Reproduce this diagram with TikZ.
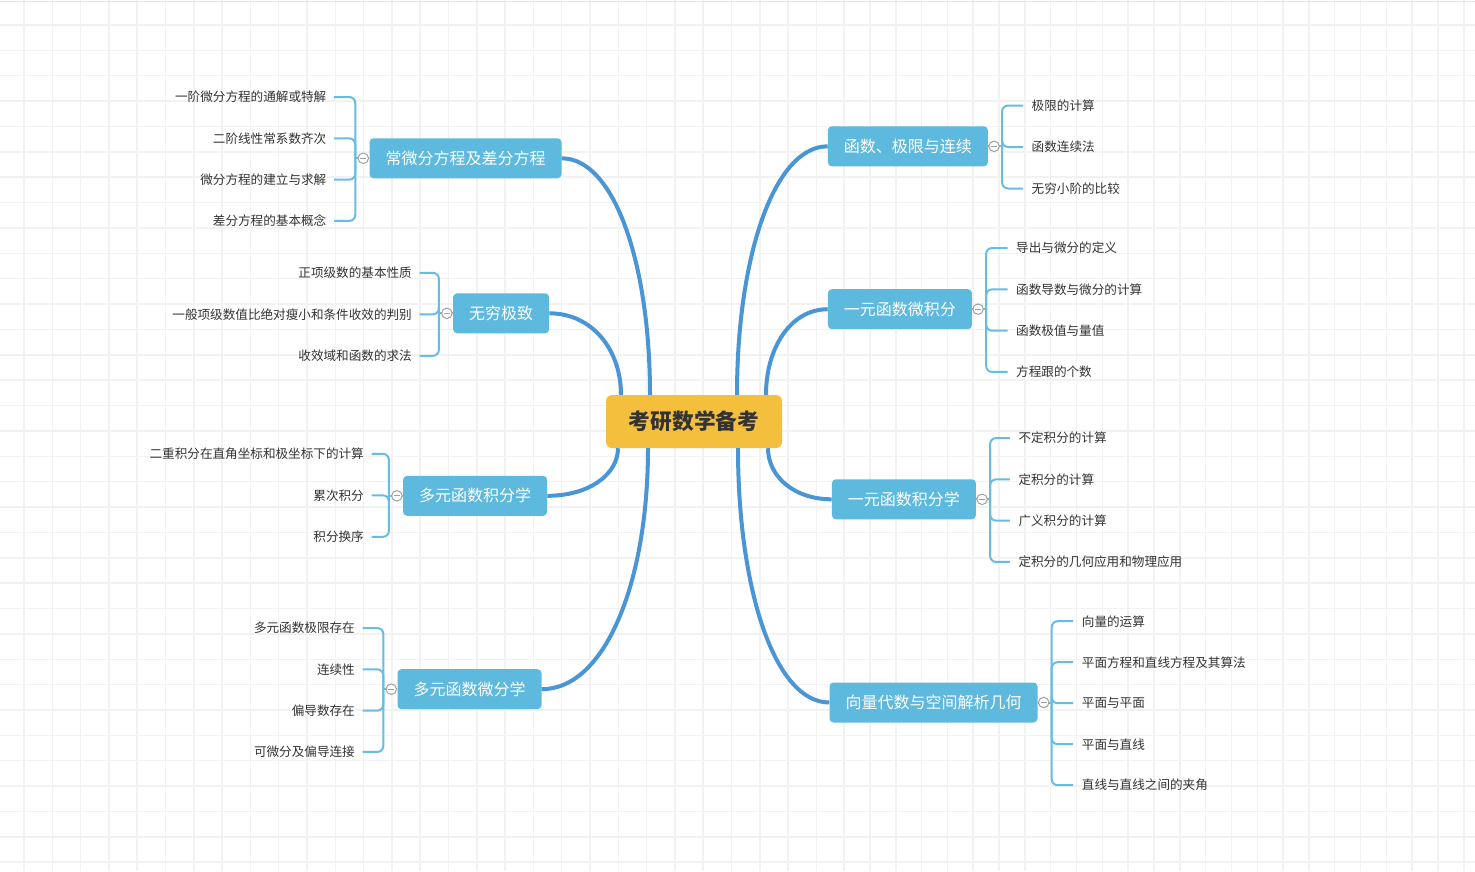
\documentclass[tikz,border=0pt]{standalone}
\usepackage{fontspec}
\setmainfont{Noto Sans CJK SC}
\usetikzlibrary{positioning}
\definecolor{gridgray}{HTML}{F2F2F2}
\definecolor{gridedge}{HTML}{E4E4E4}
\definecolor{rootfill}{HTML}{F5BF3E}
\definecolor{topicfill}{HTML}{5EB9DE}
\definecolor{trunkblue}{HTML}{4A95D5}
\definecolor{braceblue}{HTML}{66BDE2}
\definecolor{textdark}{HTML}{333333}
\definecolor{foldgray}{HTML}{A0A0A0}
\tikzset{
  gridline/.style={draw=gridgray, line width=1.5pt},
  centerbox/.style={fill=rootfill, rounded corners=6pt, minimum width=176pt,
    minimum height=53pt, inner sep=0pt, text=textdark,
    font=\fontsize{21.7}{26}\selectfont\bfseries},
  topicbox/.style={fill=topicfill, rounded corners=4pt, minimum height=40pt,
    inner xsep=16pt, inner ysep=0pt, text=white,
    font=\fontsize{16}{19}\selectfont},
  leaftext/.style={inner sep=0pt, text=textdark,
    font=\fontsize{12.6}{15}\selectfont},
  trunkline/.style={draw=trunkblue, line width=4pt},
  braceline/.style={draw=braceblue, line width=2pt, rounded corners=6pt},
  foldmark/.style={circle, draw=foldgray, fill=white, line width=1pt,
    minimum size=10.5pt, inner sep=0pt,
    path picture={\draw[foldgray, line width=1pt]
      ([xshift=2.2pt]path picture bounding box.west) --
      ([xshift=-2.2pt]path picture bounding box.east);}},
}
\begin{document}
\begin{tikzpicture}[x=1pt,y=-1pt]
  \useasboundingbox (0,0) rectangle (1475,871);
  \fill[white] (0,0) rectangle (1475,871);
  % background grid
  \foreach \i in {0,...,28} \draw[gridline] ({24+28.3*\i},0) -- ({24+28.3*\i},871);
  \foreach \i in {1,...,25} \draw[gridline] ({818.3+25.82*\i},0) -- ({818.3+25.82*\i},871);
  \foreach \j in {0,...,33} \draw[gridline] (0,{25+25.37*\j}) -- (1475,{25+25.37*\j});
  \draw[gridline, draw=gridedge] (0,1.7) -- (1475,1.7);

  % centre and main topics
  \node[centerbox] (root) at (694,421.5) {考研数学备考};
  \node[topicbox, anchor=east] (ode) at (561.7,158.3) {常微分方程及差分方程};
  \node[topicbox, anchor=east] (series) at (549.3,313.3) {无穷极致};
  \node[topicbox, anchor=east] (mint) at (547.3,495.8) {多元函数积分学};
  \node[topicbox, anchor=east] (mdiff) at (541.7,689.2) {多元函数微分学};
  \node[topicbox, anchor=west] (lim) at (827.7,146.3) {函数、极限与连续};
  \node[topicbox, anchor=west] (diff) at (827.7,309.2) {一元函数微积分};
  \node[topicbox, anchor=west] (integ) at (831.7,499.3) {一元函数积分学};
  \node[topicbox, anchor=west] (vec) at (829.3,702.5) {向量代数与空间解析几何};

  \draw[trunkline] (ode.east) .. controls +(53,0) and +(0,-130) .. ([xshift=-44pt]root.north);
  \draw[trunkline] (series.east) .. controls +(43,0) and +(0,-45) .. ([xshift=-73pt]root.north);
  \draw[trunkline] (mint.east) .. controls +(42,0) and +(0,26) .. ([xshift=-76pt]root.south);
  \draw[trunkline] (mdiff.east) .. controls +(64,0) and +(0,133) .. ([xshift=-46pt]root.south);
  \draw[trunkline] (lim.west) .. controls +(-54,0) and +(0,-137) .. ([xshift=43pt]root.north);
  \draw[trunkline] (diff.west) .. controls +(-37,0) and +(0,-47) .. ([xshift=72pt]root.north);
  \draw[trunkline] (integ.west) .. controls +(-38,0) and +(0,28) .. ([xshift=74pt]root.south);
  \draw[trunkline] (vec.west) .. controls +(-55,0) and +(0,140) .. ([xshift=44pt]root.south);

  % left leaves
  \foreach \t [count=\i] in {一阶微分方程的通解或特解,二阶线性常系数齐次,微分方程的建立与求解,差分方程的基本概念} {
    \node[leaftext, anchor=east] (ode\i) at (326.5,{159+41.3*(\i-2.5)}) {\t};
    \draw[braceline] ([xshift=-14pt]ode.west) |- ([xshift=7.5pt]ode\i.east);
  }
  \foreach \t [count=\i] in {正项级数的基本性质,一般项级数值比绝对瘦小和条件收效的判别,收效域和函数的求法} {
    \node[leaftext, anchor=east] (series\i) at (412,{314.3+41.5*(\i-2)}) {\t};
    \draw[braceline] ([xshift=-14pt]series.west) |- ([xshift=7.5pt]series\i.east);
  }
  \foreach \t [count=\i] in {二重积分在直角坐标和极坐标下的计算,累次积分,积分换序} {
    \node[leaftext, anchor=east] (mint\i) at (364,{495.3+41.5*(\i-2)}) {\t};
    \draw[braceline] ([xshift=-14pt]mint.west) |- ([xshift=7.5pt]mint\i.east);
  }
  \foreach \t [count=\i] in {多元函数极限存在,连续性,偏导数存在,可微分及偏导连接} {
    \node[leaftext, anchor=east] (mdiff\i) at (355,{690+41.3*(\i-2.5)}) {\t};
    \draw[braceline] ([xshift=-14pt]mdiff.west) |- ([xshift=7.5pt]mdiff\i.east);
  }

  % right leaves
  \foreach \t [count=\i] in {极限的计算,函数连续法,无穷小阶的比较} {
    \node[leaftext, anchor=west] (lim\i) at (1031.5,{147+41.5*(\i-2)}) {\t};
    \draw[braceline] ([xshift=14pt]lim.east) |- ([xshift=-8.5pt]lim\i.west);
  }
  \foreach \t [count=\i] in {导出与微分的定义,函数导数与微分的计算,函数极值与量值,方程跟的个数} {
    \node[leaftext, anchor=west] (diff\i) at (1016,{310+41.3*(\i-2.5)}) {\t};
    \draw[braceline] ([xshift=14pt]diff.east) |- ([xshift=-8.5pt]diff\i.west);
  }
  \foreach \t [count=\i] in {不定积分的计算,定积分的计算,广义积分的计算,定积分的几何应用和物理应用} {
    \node[leaftext, anchor=west] (integ\i) at (1018.3,{500+41.3*(\i-2.5)}) {\t};
    \draw[braceline] ([xshift=14pt]integ.east) |- ([xshift=-8.5pt]integ\i.west);
  }
  \foreach \t [count=\i] in {向量的运算,平面方程和直线方程及其算法,平面与平面,平面与直线,直线与直线之间的夹角} {
    \node[leaftext, anchor=west] (vec\i) at (1081.7,{703.2+41*(\i-3)}) {\t};
    \draw[braceline] ([xshift=14pt]vec.east) |- ([xshift=-8.5pt]vec\i.west);
  }

  % collapse marks
  \foreach \n in {ode,series,mint,mdiff} {
    \draw[braceline] ([xshift=-14pt]\n.west) -- (\n.west);
    \node[foldmark] (\n fold) at ([xshift=-6pt]\n.west) {};
  }
  \foreach \n in {lim,diff,integ,vec} {
    \draw[braceline] ([xshift=14pt]\n.east) -- (\n.east);
    \node[foldmark] (\n fold) at ([xshift=6pt]\n.east) {};
  }
\end{tikzpicture}
\end{document}
